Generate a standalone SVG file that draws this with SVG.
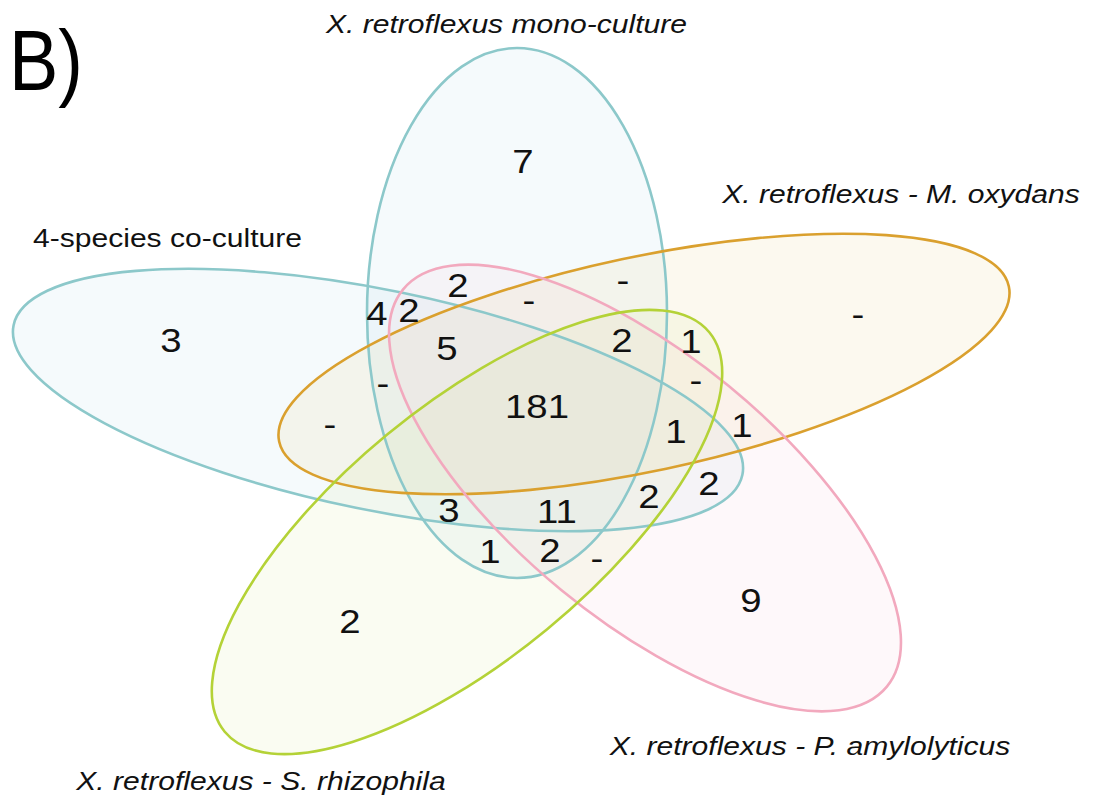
<svg xmlns="http://www.w3.org/2000/svg" width="1100" height="798" viewBox="0 0 1100 798">
<style>
.set{stroke-width:2.6}
.blue{fill:#b0dce8;fill-opacity:0.13}
.blueS{fill:none;stroke:#8cc8ca}
.orange{fill:#e8c870;fill-opacity:0.11}
.orangeS{fill:none;stroke:#daa02e}
.pink{fill:#f4c0d0;fill-opacity:0.11}
.pinkS{fill:none;stroke:#f2a9be}
.green{fill:#d8e890;fill-opacity:0.12}
.greenS{fill:none;stroke:#b4d237}
.lbl{font-family:"Liberation Sans",Arial,sans-serif;font-size:25.5px;fill:#111;text-anchor:middle}
.it{font-style:italic}
.num{font-family:"Liberation Sans",Arial,sans-serif;font-size:32.5px;fill:#111;text-anchor:middle}
.title{font-family:"Liberation Sans",Arial,sans-serif;font-size:86px;fill:#000}
</style>
<rect width="1100" height="798" fill="#ffffff"/>
<text class="title" transform="translate(9 90) scale(0.86 1)">B)</text>

<g id="set-4species">
  <ellipse class="blue" cx="378" cy="400" rx="372" ry="110" transform="rotate(11.6 378 400)"/>
  <text class="lbl" transform="translate(167.5 247) scale(1.18 1)">4-species co-culture</text>
</g>
<g id="set-mono">
  <ellipse class="blue" cx="517" cy="313" rx="150" ry="265"/>
  <text class="lbl it" transform="translate(506.5 33) scale(1.18 1)">X. retroflexus mono-culture</text>
</g>
<g id="set-oxydans">
  <ellipse class="orange" cx="644" cy="364" rx="373" ry="107" transform="rotate(-12 644 364)"/>
  <text class="lbl it" transform="translate(901 203) scale(1.18 1)">X. retroflexus - M. oxydans</text>
</g>
<g id="set-amylolyticus">
  <ellipse class="pink" cx="645" cy="488" rx="313" ry="132" transform="rotate(39.4 645 488)"/>
  <text class="lbl it" transform="translate(810 755) scale(1.18 1)">X. retroflexus - P. amylolyticus</text>
</g>
<g id="set-rhizophila">
  <ellipse class="green" cx="467" cy="532" rx="314" ry="126" transform="rotate(-39.5 467 532)"/>
  <text class="lbl it" transform="translate(261 790) scale(1.18 1)">X. retroflexus - S. rhizophila</text>
</g>

<g id="outlines" class="set">
  <ellipse class="blueS" cx="378" cy="400" rx="372" ry="110" transform="rotate(11.6 378 400)"/>
  <ellipse class="blueS" cx="517" cy="313" rx="150" ry="265"/>
  <ellipse class="orangeS" cx="644" cy="364" rx="373" ry="107" transform="rotate(-12 644 364)"/>
  <ellipse class="pinkS" cx="645" cy="488" rx="313" ry="132" transform="rotate(39.4 645 488)"/>
  <ellipse class="greenS" cx="467" cy="532" rx="314" ry="126" transform="rotate(-39.5 467 532)"/>
</g>

<g id="counts">
  <text class="num" transform="translate(523 173) scale(1.18 1)">7</text>
  <text class="num" transform="translate(171 352) scale(1.18 1)">3</text>
  <text class="num" transform="translate(458 297) scale(1.18 1)">2</text>
  <text class="num" transform="translate(377 325) scale(1.18 1)">4</text>
  <text class="num" transform="translate(409 322) scale(1.18 1)">2</text>
  <text class="num" transform="translate(447 360) scale(1.18 1)">5</text>
  <text class="num" transform="translate(537 418) scale(1.18 1)">181</text>
  <text class="num" transform="translate(622 352) scale(1.18 1)">2</text>
  <text class="num" transform="translate(691 353) scale(1.18 1)">1</text>
  <text class="num" transform="translate(676 443) scale(1.18 1)">1</text>
  <text class="num" transform="translate(742 437) scale(1.18 1)">1</text>
  <text class="num" transform="translate(709 495) scale(1.18 1)">2</text>
  <text class="num" transform="translate(649 508) scale(1.18 1)">2</text>
  <text class="num" transform="translate(449 522) scale(1.18 1)">3</text>
  <text class="num" transform="translate(557 523) scale(1.18 1)">11</text>
  <text class="num" transform="translate(490 563) scale(1.18 1)">1</text>
  <text class="num" transform="translate(550 562) scale(1.18 1)">2</text>
  <text class="num" transform="translate(751 612) scale(1.18 1)">9</text>
  <text class="num" transform="translate(350 633) scale(1.18 1)">2</text>
  <text class="num" transform="translate(529 312) scale(1.18 1)">-</text>
  <text class="num" transform="translate(623 292) scale(1.18 1)">-</text>
  <text class="num" transform="translate(383 395) scale(1.18 1)">-</text>
  <text class="num" transform="translate(330 436) scale(1.18 1)">-</text>
  <text class="num" transform="translate(696 392) scale(1.18 1)">-</text>
  <text class="num" transform="translate(597 570) scale(1.18 1)">-</text>
  <text class="num" transform="translate(858 326) scale(1.18 1)">-</text>
</g>
</svg>
